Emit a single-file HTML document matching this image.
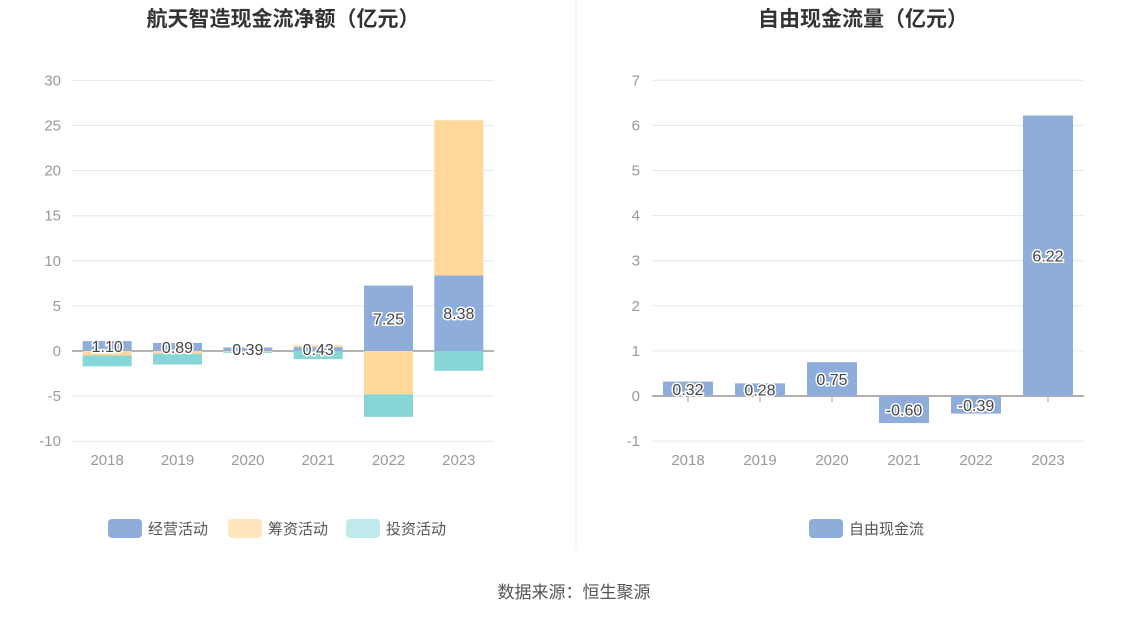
<!DOCTYPE html>
<html><head><meta charset="utf-8"><style>
body{margin:0;background:#fff;font-family:"Liberation Sans","Noto Sans CJK SC",sans-serif;}
svg text{font-family:"Liberation Sans","Noto Sans CJK SC",sans-serif;}
</style></head><body>
<svg id="c" width="1148" height="619" xmlns="http://www.w3.org/2000/svg">
<text x="283" y="26" text-anchor="middle" font-size="21" font-weight="bold" fill="#333">航天智造现金流净额（亿元）</text>
<text x="863" y="26" text-anchor="middle" font-size="21" font-weight="bold" fill="#333">自由现金流量（亿元）</text>
<line x1="576" y1="0" x2="576" y2="550" stroke="#eee"/>
<text x="574" y="598" text-anchor="middle" font-size="17" fill="#555">数据来源：恒生聚源</text>
<g id="left"></g><g id="right"></g>
</svg>
<script>
const years=['2018','2019','2020','2021','2022','2023'];
const operating=[1.10,0.89,0.39,0.43,7.25,8.38];
const financing=[-0.5,-0.3,-0.1,0.2,-4.8,17.2];
const investing=[-1.2,-1.2,-0.1,-0.9,-2.5,-2.2];
const leftTicks=[30,25,20,15,10,5,0,-5,-10];
const fcf=[0.32,0.28,0.75,-0.60,-0.39,6.22];
const rightTicks=[7,6,5,4,3,2,1,0,-1];
const NS='http://www.w3.org/2000/svg';
function mk(p,t,a){const e=document.createElementNS(NS,t);for(const k in a)e.setAttribute(k,a[k]);p.appendChild(e);return e;}
function fmt(v){return v.toFixed(2);}
// left
const L=document.getElementById('left');
const lx0=72,lx1=494,ly=v=>351-(v)*9.02;const lxc=i=>lx0+(lx1-lx0)/6*(i+0.5);
leftTicks.forEach(t=>{
 const g=mk(L,'line',{x1:lx0,x2:lx1,y1:ly(t),y2:ly(t),stroke:t===0?'#999':'#e6e6f0','stroke-width':t===0?1.5:1});
 
 const tx=mk(L,'text',{x:61,y:ly(t)+5,'text-anchor':'end','font-size':15,fill:'#999'});tx.textContent=t;
 
});
const cols=['#8eaddb','#ffd89a','#86d6d8'];
years.forEach((y,i)=>{
 let pos=0,neg=0;const bw=49;
 [operating[i],financing[i],investing[i]].forEach((v,k)=>{
  let y0,y1;if(v>=0){y0=pos;y1=pos+v;pos=y1;}else{y0=neg;y1=neg+v;neg=y1;}
  const r=mk(L,'rect',{x:lxc(i)-bw/2,y:Math.min(ly(y0),ly(y1)),width:bw,height:Math.abs(ly(y0)-ly(y1)),fill:cols[k]});
  
  
 });
 const lbl=mk(L,'text',{x:lxc(i),y:ly(operating[i]/2)+6,'text-anchor':'middle','font-size':16,fill:'#444',stroke:'#fff','stroke-width':3,'paint-order':'stroke'});
 lbl.textContent=fmt(operating[i]);
 const xt=mk(L,'text',{x:lxc(i),y:465,'text-anchor':'middle','font-size':15,fill:'#999'});xt.textContent=y;
 
});
const legL=[['经营活动',108],['筹资活动',228],['投资活动',346]];
legL.forEach((l,k)=>{
 const r=mk(L,'rect',{x:l[1],y:519,width:34,height:19,rx:4,fill:[ '#8eaddb','#ffe6bf','#bfe9ea'][k]});
 
 const t=mk(L,'text',{x:l[1]+40,y:534,'font-size':15,fill:'#555'});t.textContent=l[0];
 
});
// right
const R=document.getElementById('right');
const rx0=652,rx1=1084,ry=v=>396-v*45.1;const rxc=i=>rx0+(rx1-rx0)/6*(i+0.5);
rightTicks.forEach(t=>{
 const g=mk(R,'line',{x1:rx0,x2:rx1,y1:ry(t),y2:ry(t),stroke:t===0?'#999':'#e6e6f0','stroke-width':t===0?1.5:1});
 
 const tx=mk(R,'text',{x:640,y:ry(t)+5,'text-anchor':'end','font-size':15,fill:'#999'});tx.textContent=t;
 
});
years.forEach((y,i)=>{
 const bw=50,v=fcf[i];
 const r=mk(R,'rect',{x:rxc(i)-bw/2,y:Math.min(ry(0),ry(v)),width:bw,height:Math.abs(ry(v)-ry(0)),fill:'#8eaddb'});
 
 const tk=mk(R,'line',{x1:rxc(i),x2:rxc(i),y1:396,y2:402,stroke:'#999'});
 
 const lbl=mk(R,'text',{x:rxc(i),y:ry(v/2)+6,'text-anchor':'middle','font-size':16,fill:'#444',stroke:'#fff','stroke-width':3,'paint-order':'stroke'});
 lbl.textContent=fmt(v);
 const xt=mk(R,'text',{x:rxc(i),y:465,'text-anchor':'middle','font-size':15,fill:'#999'});xt.textContent=y;
 
});
const rs=mk(R,'rect',{x:809,y:519,width:34,height:19,rx:4,fill:'#8eaddb'});

const rt=mk(R,'text',{x:849,y:534,'font-size':15,fill:'#555'});rt.textContent='自由现金流';

</script>
</body></html>
